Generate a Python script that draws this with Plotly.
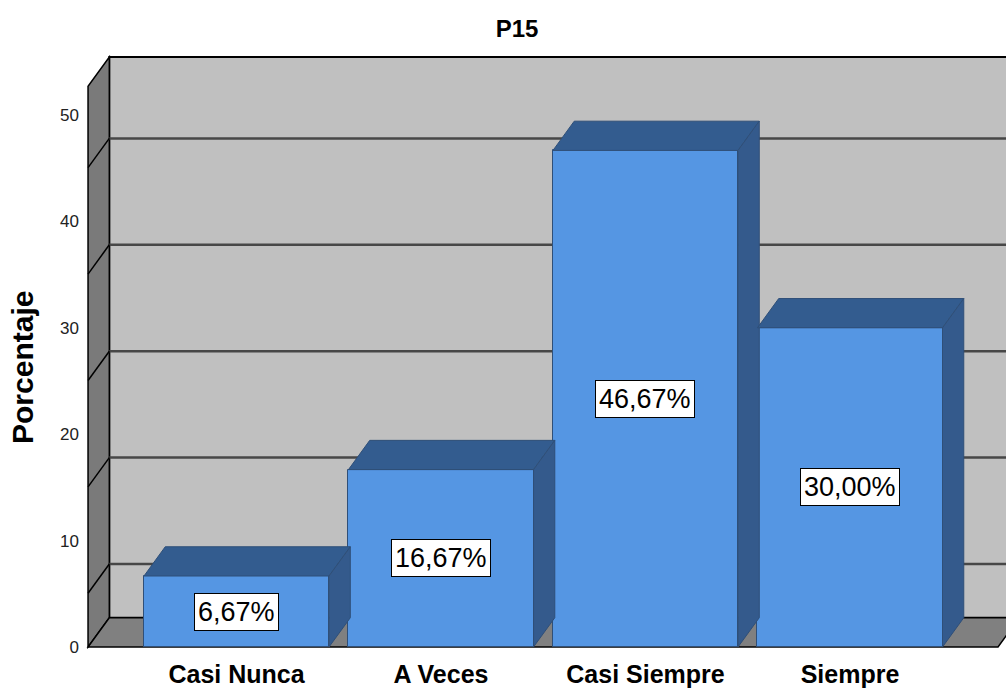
import plotly.graph_objects as go

# ---- data ----
categories = ["Casi Nunca", "A Veces", "Casi Siempre", "Siempre"]
percentages = [6.67, 16.67, 46.67, 30.00]
y_ticks = [0, 10, 20, 30, 40, 50]
grid_values = [10, 20, 30, 40, 50]
title_text = "P15"
y_title = "Porcentaje"

# ---- style / geometry ----
FONT = "Liberation Sans, Arial, sans-serif"
W, H = 1006, 689
ML, MR, MT, MB = 86, 0, 55, 40
PW, PH = W - ML - MR, H - MT - MB
BAR_W = 0.905          # bar width in category units
DX = 0.104             # depth offset (x, category units)
DY = 2.75              # depth offset (y, value units)
GRID_SHIFT = -2.2      # SPSS back-wall gridline offset
X_RANGE = [-0.736, 3.763]
Y_RANGE = [-0.19, 55.64]
WALL_X = -0.726        # front-left edge of the left wall
WALL_TOP = 55.45       # top edge of the back wall
FLOOR_R = 3.724        # front-right edge of the floor
FRONT = "#5596e3"
TOP = "#335c8f"
SIDE = "#345a8c"
EDGE = "#2f4f78"

fig = go.Figure()

# front faces
fig.add_trace(go.Bar(
    x=list(range(len(categories))), y=percentages, width=BAR_W,
    marker=dict(color=FRONT, line=dict(color=EDGE, width=1)),
    hoverinfo="skip", showlegend=False,
))

# top and side faces
for i, v in enumerate(percentages):
    l, r = i - BAR_W / 2, i + BAR_W / 2
    fig.add_trace(go.Scatter(
        x=[l, l + DX, r + DX, r, l], y=[v, v + DY, v + DY, v, v],
        fill="toself", fillcolor=TOP, mode="lines",
        line=dict(color=EDGE, width=1), hoverinfo="skip", showlegend=False))
    fig.add_trace(go.Scatter(
        x=[r, r, r + DX, r + DX, r], y=[0, v, v + DY, DY, 0],
        fill="toself", fillcolor=SIDE, mode="lines",
        line=dict(color=EDGE, width=1), hoverinfo="skip", showlegend=False))

shapes = []
# back wall
shapes.append(dict(type="rect", xref="x", yref="y", layer="below",
                   x0=WALL_X + DX, x1=X_RANGE[1] + 1, y0=DY, y1=WALL_TOP,
                   fillcolor="#c0c0c0", line=dict(color="black", width=2)))
# left wall
shapes.append(dict(type="path", xref="x", yref="y", layer="below",
                   path=f"M {WALL_X},0 L {WALL_X + DX},{DY} L {WALL_X + DX},{WALL_TOP} "
                        f"L {WALL_X},{WALL_TOP - DY} Z",
                   fillcolor="#7a7a7a", line=dict(color="black", width=1.5)))
# floor
shapes.append(dict(type="path", xref="x", yref="y", layer="below",
                   path=f"M {WALL_X},0 L {FLOOR_R},0 L {FLOOR_R + DX},{DY} "
                        f"L {WALL_X + DX},{DY} Z",
                   fillcolor="#808080", line=dict(color="black", width=1.5)))
# gridlines
for g in grid_values:
    yb = g + GRID_SHIFT
    shapes.append(dict(type="line", xref="x", yref="y", layer="below",
                       x0=WALL_X + DX, x1=X_RANGE[1] + 1, y0=yb, y1=yb,
                       line=dict(color="#474747", width=2.5)))
    shapes.append(dict(type="line", xref="x", yref="y", layer="below",
                       x0=WALL_X, x1=WALL_X + DX, y0=yb - DY, y1=yb,
                       line=dict(color="black", width=1.5)))

annotations = []
for i, v in enumerate(percentages):
    annotations.append(dict(
        x=i, y=v / 2, xref="x", yref="y", showarrow=False,
        text=f"{v:.2f}".replace(".", ",") + "%",
        font=dict(family=FONT, size=27, color="black"),
        bgcolor="white", bordercolor="black", borderwidth=1, borderpad=3))

annotations.append(dict(
    x=(22 - ML) / PW, y=(H - MB - 368) / PH, xref="paper", yref="paper",
    xanchor="center", yanchor="middle",
    text=f"<b>{y_title}</b>", textangle=-90, showarrow=False,
    font=dict(family=FONT, size=30, color="black")))

fig.update_layout(
    width=W, height=H,
    margin=dict(l=ML, r=MR, t=MT, b=MB),
    paper_bgcolor="white", plot_bgcolor="white",
    title=dict(text=f"<b>{title_text}</b>", x=(517 - ML) / PW, xref="paper", xanchor="center",
               y=1 - 29 / H, yref="container", yanchor="middle",
               font=dict(family=FONT, size=24, color="black")),
    shapes=shapes, annotations=annotations, showlegend=False,
    bargap=0,
)
fig.update_xaxes(range=X_RANGE, tickvals=list(range(len(categories))),
                 ticktext=[f"<b>{c}</b>" for c in categories],
                 tickfont=dict(family=FONT, size=25, color="black"),
                 ticklabelstandoff=8,
                 showgrid=False, zeroline=False, showline=False, ticks="")
fig.update_yaxes(range=Y_RANGE, tickvals=y_ticks,
                 tickfont=dict(family=FONT, size=17, color="#222222"),
                 ticklabelstandoff=6,
                 showgrid=False, zeroline=False, showline=False, ticks="")

fig.write_html("out.html", post_script="document.body.style.margin='0';",
               config={"displayModeBar": False})
